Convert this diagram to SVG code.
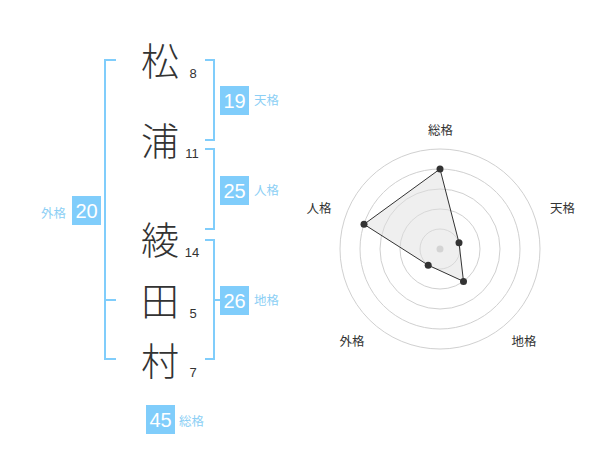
<svg xmlns="http://www.w3.org/2000/svg" width="600" height="470" viewBox="0 0 600 470">
<style>
.ch{font-family:"Noto Sans CJK JP","Noto Sans",sans-serif;font-size:38px;font-weight:300;fill:#333;text-anchor:middle}
.st{font-family:"Liberation Sans",Arial,sans-serif;font-size:13px;fill:#333;text-anchor:middle}
.br{fill:none;stroke:#80cdfb;stroke-width:2}
.box{fill:#80cdfb}
.bn{font-family:"Liberation Sans",Arial,sans-serif;font-size:20px;fill:#fff;text-anchor:middle}
.lb{font-family:"Noto Sans CJK JP","Noto Sans",sans-serif;font-size:12.5px;fill:#8ccff5}
.ring{fill:none;stroke:#d0d0d0;stroke-width:1}
.ax{font-family:"Noto Sans CJK JP","Noto Sans",sans-serif;font-size:12.5px;fill:#333;text-anchor:middle}
.dot{fill:#333}
</style>
<rect width="600" height="470" fill="#fff"/>
<g id="connectors">
<path class="br" d="M116,60 H105 V359 H116 M105,300 H116"/>
<path class="br" d="M205,60 H214 V140 H205"/>
<path class="br" d="M205,149 H214 V229 H205"/>
<path class="br" d="M205,240 H214 V359 H205 M214,300 H220"/>
</g>
<g id="char-1"><text class="ch" x="160" y="74.5">松</text><text class="st" x="193" y="78">8</text></g>
<g id="char-2"><text class="ch" x="160" y="154.5">浦</text><text class="st" x="192" y="158">11</text></g>
<g id="char-3"><text class="ch" x="160" y="254">綾</text><text class="st" x="192" y="257">14</text></g>
<g id="char-4"><text class="ch" x="160" y="315">田</text><text class="st" x="193" y="318">5</text></g>
<g id="char-5"><text class="ch" x="160" y="374.5">村</text><text class="st" x="193" y="377">7</text></g>
<g id="tenkaku"><rect class="box" x="220" y="86" width="29" height="29"/><text class="bn" x="234.5" y="107.5">19</text><text class="lb" x="254" y="105">天格</text></g>
<g id="jinkaku"><rect class="box" x="220" y="176" width="29" height="29"/><text class="bn" x="234.5" y="197.5">25</text><text class="lb" x="254" y="195">人格</text></g>
<g id="chikaku"><rect class="box" x="220" y="286" width="29" height="29"/><text class="bn" x="234.5" y="307.5">26</text><text class="lb" x="254" y="305">地格</text></g>
<g id="gaikaku"><rect class="box" x="72" y="196" width="29" height="29"/><text class="bn" x="86.5" y="217.5">20</text><text class="lb" x="41" y="217.5">外格</text></g>
<g id="soukaku"><rect class="box" x="146" y="405" width="29" height="29"/><text class="bn" x="160.5" y="426.5">45</text><text class="lb" x="179" y="426">総格</text></g>
<g id="radar">
<circle class="ring" cx="440" cy="249" r="20"/>
<circle class="ring" cx="440" cy="249" r="40"/>
<circle class="ring" cx="440" cy="249" r="60"/>
<circle class="ring" cx="440" cy="249" r="80"/>
<circle class="ring" cx="440" cy="249" r="100"/>
<circle cx="440" cy="249" r="3.5" fill="#c8c8c8"/>
<polygon points="440,169 459,242.8 463.5,281.4 428.2,265.2 364,224.3" fill="#e0e0e0" fill-opacity="0.5" stroke="#333" stroke-width="1"/>
<circle class="dot" cx="440" cy="169" r="3.5"/>
<circle class="dot" cx="459" cy="242.8" r="3.5"/>
<circle class="dot" cx="463.5" cy="281.4" r="3.5"/>
<circle class="dot" cx="428.2" cy="265.2" r="3.5"/>
<circle class="dot" cx="364" cy="224.3" r="3.5"/>
<text class="ax" x="440.5" y="135">総格</text>
<text class="ax" x="562.5" y="212.5">天格</text>
<text class="ax" x="319" y="212.5">人格</text>
<text class="ax" x="352" y="346">外格</text>
<text class="ax" x="524" y="346">地格</text>
</g>
</svg>
